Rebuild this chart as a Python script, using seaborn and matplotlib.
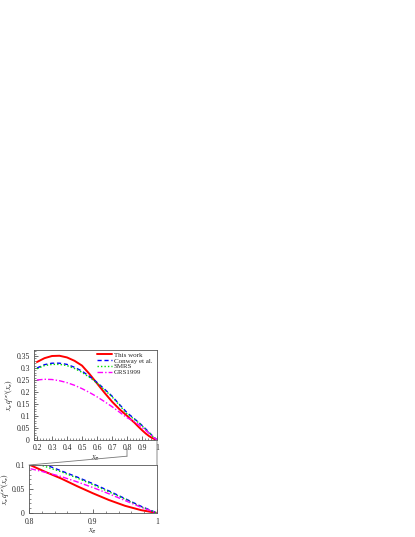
import numpy as np
import pandas as pd
import matplotlib
matplotlib.use("Agg")
import matplotlib.pyplot as plt
from matplotlib.patches import ConnectionPatch
from matplotlib.ticker import MultipleLocator
import seaborn as sns

# valeurs
x_pi = [0.2, 0.25, 0.3, 0.35, 0.4, 0.45, 0.5, 0.55, 0.6, 0.65, 0.7, 0.75,
        0.8, 0.825, 0.85, 0.875, 0.9, 0.925, 0.95, 0.975, 1.0]
this_work = [0.325, 0.341, 0.350, 0.351, 0.344, 0.330, 0.310, 0.275, 0.236, 0.197, 0.160, 0.128,
             0.101, 0.086, 0.072, 0.056, 0.041, 0.027, 0.015, 0.006, 0.0]
conway = [0.300, 0.314, 0.320, 0.320, 0.315, 0.303, 0.287, 0.265, 0.240, 0.212, 0.183, 0.148,
          0.114, 0.101, 0.088, 0.075, 0.061, 0.046, 0.030, 0.014, 0.0]
smrs = [0.297, 0.310, 0.315, 0.315, 0.310, 0.298, 0.282, 0.261, 0.237, 0.209, 0.180, 0.145,
        0.109, 0.097, 0.086, 0.073, 0.059, 0.044, 0.029, 0.013, 0.0]
grs1999 = [0.250, 0.253, 0.252, 0.247, 0.239, 0.228, 0.214, 0.198, 0.180, 0.160, 0.139, 0.116,
           0.093, 0.085, 0.076, 0.065, 0.053, 0.040, 0.026, 0.012, 0.0]

series = [
    ("This work", this_work, "#ff0000", "-", 1.4),
    ("Conway et al.", conway, "#0000ff", (0, (3, 2)), 1.0),
    ("SMRS", smrs, "#00dd00", (0, (1, 1.5)), 1.0),
    ("GRS1999", grs1999, "#ff00ff", (0, (4, 1.5, 1, 1.5)), 1.0),
]

sns.set_style("ticks")
plt.rcParams['font.family'] = ['Liberation Serif', 'DejaVu Serif']
plt.rcParams['mathtext.fontset'] = 'stix'

fig = plt.figure(figsize=(4.15, 5.37), dpi=100)
ax_top = fig.add_axes([34 / 415, 1 - 440 / 537, 123 / 415, 90 / 537])
ax_bot = fig.add_axes([29 / 415, 1 - 513 / 537, 128 / 415, 48 / 537])

df = pd.DataFrame({"x": x_pi})
for name, vals, col, ls, lw in series:
    df[name] = vals
    for ax in (ax_top, ax_bot):
        sns.lineplot(x="x", y=name, data=df, ax=ax, color=col, linestyle=ls,
                     linewidth=lw, label=name if ax is ax_top else None)

ylab = r"$x_\pi\, q^{(\pi)}(x_\pi)$"

ax_top.set_xlim(0.18, 1.0)
ax_top.set_ylim(0, 0.375)
ax_top.xaxis.set_minor_locator(MultipleLocator(0.02))
ax_top.yaxis.set_minor_locator(MultipleLocator(0.01))
ax_top.set_xticks([0.2, 0.3, 0.4, 0.5, 0.6, 0.7, 0.8, 0.9, 1.0])
ax_top.set_xticklabels(["0.2", "0.3", "0.4", "0.5", "0.6", "0.7", "0.8", "0.9", "1"])
ax_top.set_yticks([0, 0.05, 0.1, 0.15, 0.2, 0.25, 0.3, 0.35])
ax_top.set_yticklabels(["0", "0.05", "0.1", "0.15", "0.2", "0.25", "0.3", "0.35"])

ax_bot.set_xlim(0.8, 1.0)
ax_bot.set_ylim(0, 0.1)
ax_bot.xaxis.set_minor_locator(MultipleLocator(0.02))
ax_bot.yaxis.set_minor_locator(MultipleLocator(0.01))
ax_bot.set_xticks([0.8, 0.9, 1.0])
ax_bot.set_xticklabels(["0.8", "0.9", "1"])
ax_bot.set_yticks([0, 0.05, 0.1])
ax_bot.set_yticklabels(["0", "0.05", "0.1"])

for ax in (ax_top, ax_bot):
    ax.set_xlabel(r"$x_\pi$", fontsize=6, labelpad=1)
    ax.set_ylabel(ylab, fontsize=5.5)
    ax.tick_params(which="both", direction="in", labelsize=5.5, pad=3, color="#333333")
    ax.tick_params(which="major", length=3, width=0.5)
    ax.tick_params(which="minor", length=1.5, width=0.4)
    for sp in ax.spines.values():
        sp.set_visible(True)
        sp.set_linewidth(0.6)
        sp.set_color("#555555")

ax_top.yaxis.set_label_coords(-0.15, 0.5)
ax_bot.yaxis.set_label_coords(-0.13, 0.5)
ax_bot.tick_params(axis="x", pad=3.5)

leg = ax_top.legend(loc="upper right", bbox_to_anchor=(1.0, 1.03), fontsize=5,
                    frameon=False, handlelength=2.2, handletextpad=0.3,
                    labelspacing=0.0, borderpad=0.15)

# lignes de raccord entre les deux panneaux
grey = "#777777"
tr = ax_top.get_xaxis_transform()
fig.add_artist(ConnectionPatch((0.8, -0.09), (0.8, -0.18), coordsA=tr, coordsB=tr,
                               color=grey, lw=0.6))
fig.add_artist(ConnectionPatch((0.8, -0.18), (0.8, 0.1), coordsA=tr, coordsB="data",
                               axesB=ax_bot, color=grey, lw=0.6))
fig.add_artist(ConnectionPatch((1.0, 0.0), (1.0, 0.1), coordsA="data", coordsB="data",
                               axesA=ax_top, axesB=ax_bot, color=grey, lw=0.6))

fig.savefig("out.png", dpi=100)
